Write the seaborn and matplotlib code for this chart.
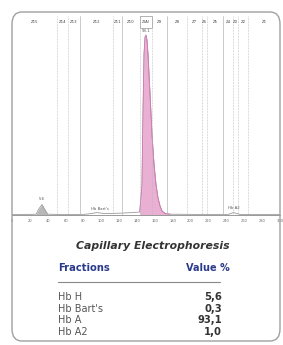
import numpy as np
import pandas as pd
import matplotlib
matplotlib.use("Agg")
import matplotlib.pyplot as plt
from matplotlib.patches import FancyBboxPatch, Rectangle
import seaborn as sns

# ============================
# DATA
# ============================
trace_x = [0, 20, 27, 30, 33.6, 37, 40, 50, 80, 87, 95, 104, 120, 135, 143,
           145.5, 146.6, 147.8, 148.9, 150, 151.1, 152.2, 154.5, 156.7, 159,
           161.2, 163.4, 165.7, 167.9, 171.3, 177, 200, 242, 248, 255, 300]
trace_y = [0.3, 0.3, 0.4, 3, 5.2, 2.5, 0.4, 0.3, 0.3, 0.6, 1.2, 0.7, 0.9, 1.2, 1.5,
           15, 50, 80, 88.5, 89.5, 87, 80, 60, 40, 25,
           15, 8.5, 4.5, 2, 0.8, 0.4, 0.3, 0.3, 1.2, 0.3, 0.3]

zone_edges = [50.4, 62.7, 76.1, 113.1, 123.1, 143.3, 156.7, 173.5, 195.9,
              212.7, 218.3, 236.2, 247.4, 253, 264.2]
zone_labels = ["Z15", "Z14", "Z13", "Z12", "Z11", "Z10", "Z(A)", "Z9",
               "Z8", "Z7", "Z6", "Z5", "Z4", "Z3", "Z2", "Z1"]

peak_labels = ["5.6", "Hb Bart's", "93.1", "Hb A2"]
peak_pos = [33.6, 98, 150, 248]

fractions = ["Hb H", "Hb Bart's", "Hb A", "Hb A2"]
values = ["5,6", "0,3", "93,1", "1,0"]

# ============================
# FIGURE
# ============================
sns.set_style("white")
plt.rcParams["font.family"] = ["DejaVu Sans"]

W, H = 283, 345
fig = plt.figure(figsize=(W / 100, H / 100), dpi=100)

# rounded frame
frame = FancyBboxPatch((12 / W, 4 / H), 268 / W, 329 / H,
                       boxstyle="round,pad=0,rounding_size=0.035",
                       transform=fig.transFigure, fill=False,
                       ec="#a0a0a0", lw=1.0)
fig.patches.append(frame)

ax = fig.add_axes([12 / W, 130 / H, 268 / W, 201 / H])
df = pd.DataFrame({"x": trace_x, "y": trace_y})

xs = np.array(trace_x)
ys = np.array(trace_y)
mask_h = (xs >= 27) & (xs <= 40)
ax.fill_between(xs[mask_h], 0, ys[mask_h], color="#b8b8b8", lw=0)
mask_a = (xs >= 143) & (xs <= 177)
ax.fill_between(xs[mask_a], 0, ys[mask_a], color="#eab0d4", lw=0)
sns.lineplot(data=df, x="x", y="y", ax=ax, color="#9a9a9a", lw=0.6)
ax.plot(xs[mask_a], ys[mask_a], color="#d77ab5", lw=0.6)

# zone lines
for i, e in enumerate(zone_edges):
    ls = "-" if i in (2, 4, 7, 11) else (0, (1, 1.2))
    ax.axvline(e, ymin=0, ymax=0.99, color="#b5b5b5", lw=0.5, ls=ls)

edges = [0] + zone_edges + [300]
for i, lab in enumerate(zone_labels):
    cx = (edges[i] + edges[i + 1]) / 2
    ax.text(cx, 96, lab, ha="center", va="center", fontsize=2.8, color="#444444")
ax.add_patch(Rectangle((edges[6], 93), edges[7] - edges[6], 6, fill=False,
                       ec="#777777", lw=0.4))

ax.text(peak_pos[0], 7.5, peak_labels[0], ha="center", fontsize=2.8, color="#555555")
ax.text(peak_pos[1], 2.5, peak_labels[1], ha="center", fontsize=2.8, color="#555555")
ax.text(peak_pos[2], 91, peak_labels[2], ha="center", fontsize=2.8, color="#555555")
ax.text(peak_pos[3], 3.0, peak_labels[3], ha="center", fontsize=2.8, color="#555555")

ax.set_xlim(0, 300)
ax.set_ylim(0, 100)
for s in ["top", "left", "right"]:
    ax.spines[s].set_visible(False)
ax.spines["bottom"].set_color("#999999")
ax.spines["bottom"].set_linewidth(0.7)
ax.set_yticks([])
ax.set_xticks(range(0, 301, 20))
ax.set_xticklabels([str(t) for t in range(0, 301, 20)], fontsize=2.6, color="#666666")
ax.tick_params(axis="x", length=2, width=0.5, color="#999999", pad=1)
ax.set_xlabel("")
ax.set_ylabel("")
ax.patch.set_alpha(0)

# ============================
# TABLE
# ============================
def fy(py):
    return 1 - py / H

fig.text(153 / W, fy(246), "Capillary Electrophoresis", ha="center", va="center",
         fontsize=7.8, fontweight="bold", style="italic", color="#333333")
fig.text(58 / W, fy(268), "Fractions", ha="left", va="center",
         fontsize=7.2, fontweight="bold", color="#2b3a8a")
fig.text(230 / W, fy(268), "Value %", ha="right", va="center",
         fontsize=7.0, fontweight="bold", color="#2b3a8a")
fig.add_artist(plt.Line2D([58 / W, 220 / W], [fy(282), fy(282)],
                          color="#888888", lw=0.8))
for i, (f, v) in enumerate(zip(fractions, values)):
    y = fy(297 + i * 11.6)
    fig.text(58 / W, y, f, ha="left", va="center", fontsize=7.0, color="#555555")
    fig.text(222 / W, y, v, ha="right", va="center", fontsize=7.2,
             fontweight="bold", color="#333333")

fig.savefig("out.png", dpi=100, facecolor="white")
